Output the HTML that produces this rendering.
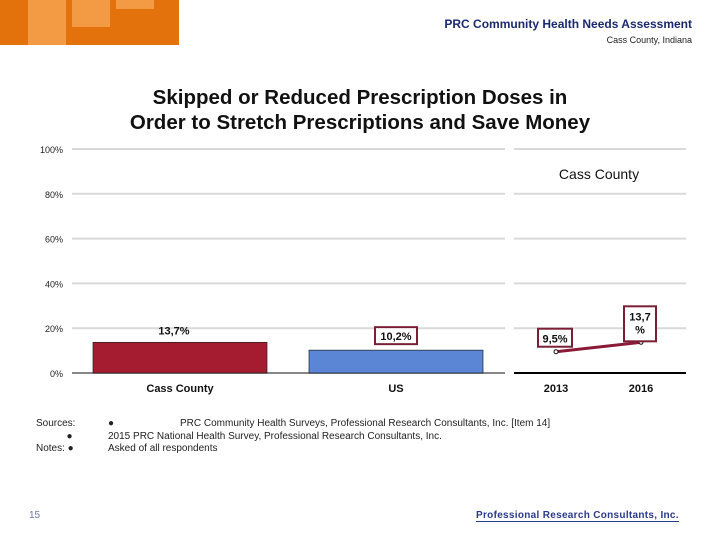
<!DOCTYPE html>
<html><head><meta charset="utf-8"><style>
body{margin:0;width:720px;height:540px;background:#fff;position:relative;overflow:hidden;font-family:"Liberation Sans",sans-serif}
.a{position:absolute}
</style></head><body>
<div class="a" style="left:0;top:0;width:179px;height:45px;background:#e4720c"></div>
<div class="a" style="left:28px;top:0;width:38px;height:45px;background:#f29a44"></div>
<div class="a" style="left:72px;top:0;width:38px;height:27px;background:#f29a44"></div>
<div class="a" style="left:116px;top:0;width:38px;height:9px;background:#f29a44"></div>
<div class="a" style="right:28px;top:17px;font-size:12px;color:#1a2a6c;font-weight:bold">PRC Community Health Needs Assessment</div>
<div class="a" style="right:28px;top:35px;font-size:9px;color:#222">Cass County, Indiana</div>
<div class="a" style="left:0;width:720px;top:85px;text-align:center;font-size:20.5px;font-weight:bold;color:#111;line-height:25px">Skipped or Reduced Prescription Doses in<br>Order to Stretch Prescriptions and Save Money</div>
<svg class="a" style="left:0;top:0" width="720" height="540" id="svg"></svg>
<div class="a" style="left:36px;top:418px;font-size:10px;color:#222;line-height:12.5px">Sources:<br>&nbsp;&nbsp;&nbsp;&nbsp;&nbsp;&nbsp;&nbsp;&nbsp;&nbsp;&nbsp;&nbsp;●<br>Notes: ●</div>
<div class="a" style="left:108px;top:418px;font-size:10px;color:#222;line-height:12.5px">●</div>
<div class="a" style="left:108px;top:418px;font-size:10px;color:#222;line-height:12.5px"><span style="margin-left:72px">PRC Community Health Surveys, Professional Research Consultants, Inc. [Item 14]</span><br>2015 PRC National Health Survey, Professional Research Consultants, Inc.<br>Asked of all respondents</div>
<div class="a" style="left:29px;top:510px;font-size:10px;color:#6a7aa8">15</div>
<div class="a" style="left:476px;top:510px;font-size:10px;font-weight:bold;color:#2a3a8c;border-bottom:1px solid #2a3a8c;letter-spacing:0.3px">Professional Research Consultants, Inc.</div>
<script>
const ticks=[0,20,40,60,80,100];
const barCats=["Cass County","US"];
const barVals=[13.7,10.2];
const barLabels=["13,7%","10,2%"];
const lineCats=["2013","2016"];
const lineVals=[9.5,13.7];
const lineLabels=["9,5%","13,7 %"];
const NS="http://www.w3.org/2000/svg",s=document.getElementById('svg');
function el(t,a,txt){const e=document.createElementNS(NS,t);for(const k in a)e.setAttribute(k,a[k]);if(txt!==undefined)e.textContent=txt;s.appendChild(e);return e;}
const y=v=>373-v*2.24;
const bx=i=>93+i*216;
const lx=i=>556+i*85;
ticks.forEach(t=>{
 const g=el('line',{x1:72,x2:505,y1:y(t),y2:y(t),stroke:t?'#d9d9d9':'#888','stroke-width':2});
 
 const g2=el('line',{x1:514,x2:686,y1:y(t),y2:y(t),stroke:t?'#d9d9d9':'#000','stroke-width':2});
 
 const l=el('text',{x:63,y:y(t)+4,'text-anchor':'end','font-size':9,fill:'#222'},t+'%');
 
});
const cols=['#a51c30','#5b86d6'];
barVals.forEach((v,i)=>{
 const r=el('rect',{x:bx(i),y:y(v),width:174,height:y(0)-y(v),fill:cols[i],stroke:'#222','stroke-width':0.7});
 
 const c=bx(i)+87;
 if(i==1){const b=el('rect',{x:c-21,y:y(v)-23,width:42,height:17,fill:'#fff',stroke:'#7a1f35','stroke-width':2});}
 const t=el('text',{x:i==0?c-6:c,y:i==0?y(v)-8:y(v)-10,'text-anchor':'middle','font-size':11,'font-weight':'bold',fill:'#111'},barLabels[i]);
 
 const xl=el('text',{x:c,y:392,'text-anchor':'middle','font-size':11,'font-weight':'bold',fill:'#111'},barCats[i]);
 
});
const pl=el('polyline',{points:lineVals.map((v,i)=>lx(i)+','+y(v)).join(' '),fill:'none',stroke:'#8b1a36','stroke-width':3});

lineVals.forEach((v,i)=>{
 const p=el('circle',{cx:lx(i),cy:y(v),r:2,fill:'#fff',stroke:'#111'});
 
 const c=lx(i);
 if(i==0){const b=el('rect',{x:c-18,y:y(v)-23,width:34,height:18,fill:'#fff',stroke:'#7a1f35','stroke-width':2});
  const t=el('text',{x:c-1,y:y(v)-9,'text-anchor':'middle','font-size':11,'font-weight':'bold',fill:'#111'},lineLabels[i]);}
 else{const b=el('rect',{x:c-17,y:y(v)-36,width:32,height:35,fill:'#fff',stroke:'#7a1f35','stroke-width':2});
  const parts=lineLabels[i].split(' ');
  const t=el('text',{x:c-1,y:y(v)-22,'text-anchor':'middle','font-size':11,'font-weight':'bold',fill:'#111'},parts[0]);
  const t2=el('text',{x:c-1,y:y(v)-9,'text-anchor':'middle','font-size':11,'font-weight':'bold',fill:'#111'},parts[1]);}
 const xl=el('text',{x:c,y:392,'text-anchor':'middle','font-size':11,'font-weight':'bold',fill:'#111'},lineCats[i]);
 
});
const lg=el('text',{x:599,y:179,'text-anchor':'middle','font-size':14,fill:'#111'},'Cass County');

</script>
</body></html>
